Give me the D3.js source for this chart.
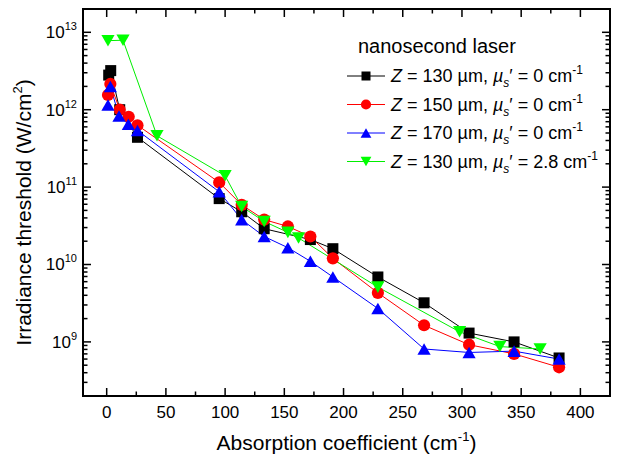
<!DOCTYPE html>
<html><head><meta charset="utf-8">
<script src="https://cdn.jsdelivr.net/npm/d3@7"></script>
<style>
html,body{margin:0;padding:0;background:#fff;}
svg text{font-family:"Liberation Sans",Arial,sans-serif;fill:#000;}
</style></head>
<body>
<svg id="c" width="620" height="467"></svg>
<script>
// ---- data ----
const blackX = [1.7, 3.4, 11, 26, 95, 114, 133, 172, 191, 229, 268, 306, 344, 382];
const blackY = [2.8e12, 3.2e12, 1.0e12, 4.4e11, 7.1e10, 4.8e10, 2.9e10, 2.1e10, 1.6e10, 6.9e9, 3.2e9, 1.3e9, 1.0e9, 6.2e8];
const redX = [1.1, 3.1, 11, 18.6, 26, 95, 114, 133, 153, 172, 191, 229, 268, 306, 344, 382];
const redY = [1.55e12, 2.15e12, 1.0e12, 8.1e11, 6.3e11, 1.15e11, 5.9e10, 3.8e10, 3.1e10, 2.3e10, 1.2e10, 4.3e9, 1.64e9, 9.2e8, 7.0e8, 4.7e8];
const blueX = [1.1, 3.1, 10.4, 18.3, 26, 95, 114, 133, 153, 172, 191, 229, 268, 306, 344, 382];
const blueY = [1.15e12, 2.0e12, 8.3e11, 6.5e11, 5.4e11, 8.7e10, 3.8e10, 2.3e10, 1.65e10, 1.1e10, 6.9e9, 2.7e9, 8.1e8, 7.3e8, 7.6e8, 6.0e8];
const greenX = [1.1, 13.8, 42.5, 100, 114, 133, 153, 162, 229, 298, 332, 366];
const greenY = [7.8e12, 7.9e12, 4.6e11, 1.4e11, 5.6e10, 3.6e10, 2.6e10, 2.2e10, 5.1e9, 1.35e9, 8.7e8, 8.1e8];
const zValues = ["130", "150", "170", "130"];
const muValues = ["0", "0", "0", "2.8"];
const xTickValues = [0, 50, 100, 150, 200, 250, 300, 350, 400];
const yTickExponents = [9, 10, 11, 12, 13];
const legendTitle = "nanosecond laser";
const xTitle = "Absorption coefficient (cm";
const yTitle = "Irradiance threshold (W/cm";

// ---- layout ----
const L = 83, R = 610, T = 9, B = 396;
const svg = d3.select("#c");
const x = d3.scaleLinear().domain([-20, 425]).range([L, R]);
const y = d3.scaleLog().domain([2e8, 2e13]).range([B, T]);

const series = [
  {X: blackX, Y: blackY, color: "#000000", line: "#000000", shape: "square"},
  {X: redX, Y: redY, color: "#ff0000", line: "#ff0000", shape: "circle"},
  {X: blueX, Y: blueY, color: "#0000ff", line: "#0000ff", shape: "up"},
  {X: greenX, Y: greenY, color: "#00ff00", line: "#00ee00", shape: "down"}
];

function marker(g, shape, cx, cy, s, color) {
  if (shape === "square") {
    g.append("rect").attr("x", cx - s/2).attr("y", cy - s/2).attr("width", s).attr("height", s).attr("fill", color);
  } else if (shape === "circle") {
    g.append("circle").attr("cx", cx).attr("cy", cy).attr("r", s/2 + 0.6).attr("fill", color);
  } else if (shape === "up") {
    const w = s * 1.2, h = s * 1.05;
    g.append("path").attr("d", `M${cx - w/2},${cy + h/2}L${cx + w/2},${cy + h/2}L${cx},${cy - h/2}Z`).attr("fill", color);
  } else {
    const w = s * 1.2, h = s * 1.05;
    g.append("path").attr("d", `M${cx - w/2},${cy - h/2}L${cx + w/2},${cy - h/2}L${cx},${cy + h/2}Z`).attr("fill", color);
  }
}

const plot = svg.append("g");
const line = d3.line().x(d => x(d[0])).y(d => y(d[1]));
series.forEach(s => {
  const pts = s.X.map((v, i) => [v, s.Y[i]]);
  plot.append("path").attr("d", line(pts)).attr("fill", "none").attr("stroke", s.line).attr("stroke-width", 1);
});
series.forEach(s => {
  const g = plot.append("g");
  s.X.forEach((v, i) => marker(g, s.shape, x(v), y(s.Y[i]), 11, s.color));
});

// ---- axes (ticks inward on all sides) ----
const ax = svg.append("g").attr("stroke", "#000");
const xMinor = d3.range(-25, 426, 25).filter(v => v % 50 !== 0 && v >= -20 && v <= 425);
const yMinor = [];
for (let e = 8; e <= 13; e++) for (let m = 2; m <= 9; m++) { const v = m * Math.pow(10, e); if (v > 2e8 && v < 2e13) yMinor.push(v); }
const majLen = 8, minLen = 4.5;
xTickValues.forEach(v => {
  ax.append("line").attr("x1", x(v)).attr("x2", x(v)).attr("y1", B).attr("y2", B - majLen).attr("stroke-width", 1.5);
  ax.append("line").attr("x1", x(v)).attr("x2", x(v)).attr("y1", T).attr("y2", T + majLen).attr("stroke-width", 1.5);
});
xMinor.forEach(v => {
  ax.append("line").attr("x1", x(v)).attr("x2", x(v)).attr("y1", B).attr("y2", B - minLen).attr("stroke-width", 1.5);
  ax.append("line").attr("x1", x(v)).attr("x2", x(v)).attr("y1", T).attr("y2", T + minLen).attr("stroke-width", 1.5);
});
yTickExponents.forEach(e => {
  const v = Math.pow(10, e);
  ax.append("line").attr("x1", L).attr("x2", L + majLen).attr("y1", y(v)).attr("y2", y(v)).attr("stroke-width", 1.5);
  ax.append("line").attr("x1", R).attr("x2", R - majLen).attr("y1", y(v)).attr("y2", y(v)).attr("stroke-width", 1.5);
});
yMinor.forEach(v => {
  ax.append("line").attr("x1", L).attr("x2", L + minLen).attr("y1", y(v)).attr("y2", y(v)).attr("stroke-width", 1.5);
  ax.append("line").attr("x1", R).attr("x2", R - minLen).attr("y1", y(v)).attr("y2", y(v)).attr("stroke-width", 1.5);
});
svg.append("rect").attr("x", L).attr("y", T).attr("width", R - L).attr("height", B - T)
  .attr("fill", "none").attr("stroke", "#000").attr("stroke-width", 2);

// tick labels
xTickValues.forEach(v => {
  svg.append("text").attr("x", x(v)).attr("y", 418).attr("text-anchor", "middle").attr("font-size", 17).text(v);
});
yTickExponents.forEach(e => {
  const t = svg.append("text").attr("x", 77).attr("y", y(Math.pow(10, e)) + 6).attr("text-anchor", "end").attr("font-size", 17);
  t.append("tspan").text("10");
  t.append("tspan").attr("dy", -8).attr("font-size", 11).text(e);
});

// axis titles
const xt = svg.append("text").attr("x", (L + R) / 2).attr("y", 450).attr("text-anchor", "middle").attr("font-size", 21);
xt.append("tspan").text(xTitle);
xt.append("tspan").attr("dy", -9).attr("font-size", 13).text("-1");
xt.append("tspan").attr("dy", 9).text(")");

const yt = svg.append("text").attr("transform", `translate(31,${(T + B) / 2 + 10}) rotate(-90)`).attr("text-anchor", "middle").attr("font-size", 21);
yt.append("tspan").text(yTitle);
yt.append("tspan").attr("dy", -9).attr("font-size", 13).text("2");
yt.append("tspan").attr("dy", 9).text(")");

// ---- legend ----
const lg = svg.append("g");
lg.append("text").attr("x", 358).attr("y", 53).attr("font-size", 20).text(legendTitle);
series.forEach((s, i) => {
  const cy = 76 + i * 28.5;
  lg.append("line").attr("x1", 347).attr("x2", 385).attr("y1", cy).attr("y2", cy).attr("stroke", s.line).attr("stroke-width", 1);
  marker(lg, s.shape, 366, cy, 9, s.color);
  const t = lg.append("text").attr("x", 391).attr("y", cy + 6).attr("font-size", 18);
  t.append("tspan").attr("font-style", "italic").text("Z");
  t.append("tspan").text(" = " + zValues[i] + " \u00b5m, ");
  t.append("tspan").attr("font-style", "italic").text("\u00b5");
  t.append("tspan").attr("font-style", "italic").attr("font-size", 12).attr("dy", 5).text("s");
  t.append("tspan").attr("dy", -5).text("\u2032 = " + muValues[i] + " cm");
  t.append("tspan").attr("font-size", 12).attr("dy", -8).text("-1");
});
</script>
</body></html>
